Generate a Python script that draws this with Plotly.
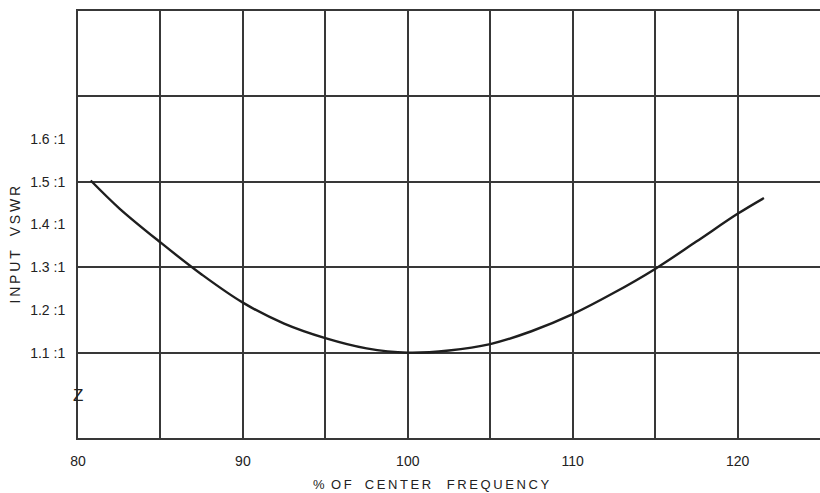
import plotly.graph_objects as go

freq = [80.77, 82.5, 85, 87.5, 90, 92.5, 95, 97.5, 100, 102.5, 105, 107.5, 110, 112.5, 115, 117.5, 120, 121.6]
vswr = [1.503, 1.438, 1.358, 1.283, 1.217, 1.168, 1.134, 1.110, 1.100, 1.105, 1.120, 1.150, 1.190, 1.240, 1.296, 1.360, 1.425, 1.462]

x_ticks = [80, 90, 100, 110, 120]
x_labels = ["80", "90", "100", "110", "120"]
y_ticks = [1.1, 1.2, 1.3, 1.4, 1.5, 1.6]
y_labels = ["1.1 :1", "1.2 :1", "1.3 :1", "1.4 :1", "1.5 :1", "1.6 :1"]

x_title = "%\u2002O\u2009F\u2003C\u2009E\u2009N\u2009T\u2009E\u2009R\u2003\u2009F\u2009R\u2009E\u2009Q\u2009U\u2009E\u2009N\u2009C\u2009Y"
y_title = "I\u2009N\u2009P\u2009U\u2009T\u2003V\u2009S\u2009W\u2009R"

grid = "#383838"
ink = "#222222"
font = "Liberation Sans"

fig = go.Figure()
fig.add_trace(go.Scatter(x=freq, y=vswr, mode="lines",
                         line=dict(color="#1e1e1e", width=2.4, shape="spline", smoothing=1.0),
                         hoverinfo="skip", showlegend=False))

fig.update_layout(
    width=820, height=493,
    margin=dict(l=78, r=0, t=11, b=55),
    paper_bgcolor="white", plot_bgcolor="white",
    font=dict(family=font, color=ink, size=14),
    xaxis=dict(range=[80, 125], tickvals=x_ticks, ticktext=x_labels, ticks="",
               showgrid=True, gridcolor=grid, gridwidth=2,
               minor=dict(dtick=5, tick0=80, showgrid=True, gridcolor=grid, gridwidth=2),
               showline=True, linecolor=grid, linewidth=2, mirror=True,
               zeroline=False, ticklabelstandoff=9, automargin=False,
               tickfont=dict(size=14)),
    yaxis=dict(range=[0.9, 1.9], tickvals=y_ticks, ticktext=y_labels, ticks="",
               showgrid=False,
               minor=dict(dtick=0.2, tick0=0.9, showgrid=True, gridcolor=grid, gridwidth=2),
               showline=True, linecolor=grid, linewidth=2,
               zeroline=False, ticklabelstandoff=8, automargin=False,
               tickfont=dict(size=14)),
)

fig.add_annotation(x=0.476, y=-0.11, xref="paper", yref="paper", text=x_title, showarrow=False,
                   font=dict(size=13, color=ink), xanchor="center", yanchor="middle")
fig.add_annotation(x=-0.085, y=0.453, xref="paper", yref="paper", text=y_title, showarrow=False,
                   textangle=-90, font=dict(size=14, color=ink), xanchor="center", yanchor="middle")
fig.add_annotation(x=0, y=1.0, xref="paper", yref="y", text="Z", showarrow=False,
                   font=dict(size=17, color=ink), xanchor="center")

fig.write_html("out.html", config={"displayModeBar": False, "staticPlot": True},
               post_script="document.body.style.margin='0';document.body.style.overflow='hidden';")
